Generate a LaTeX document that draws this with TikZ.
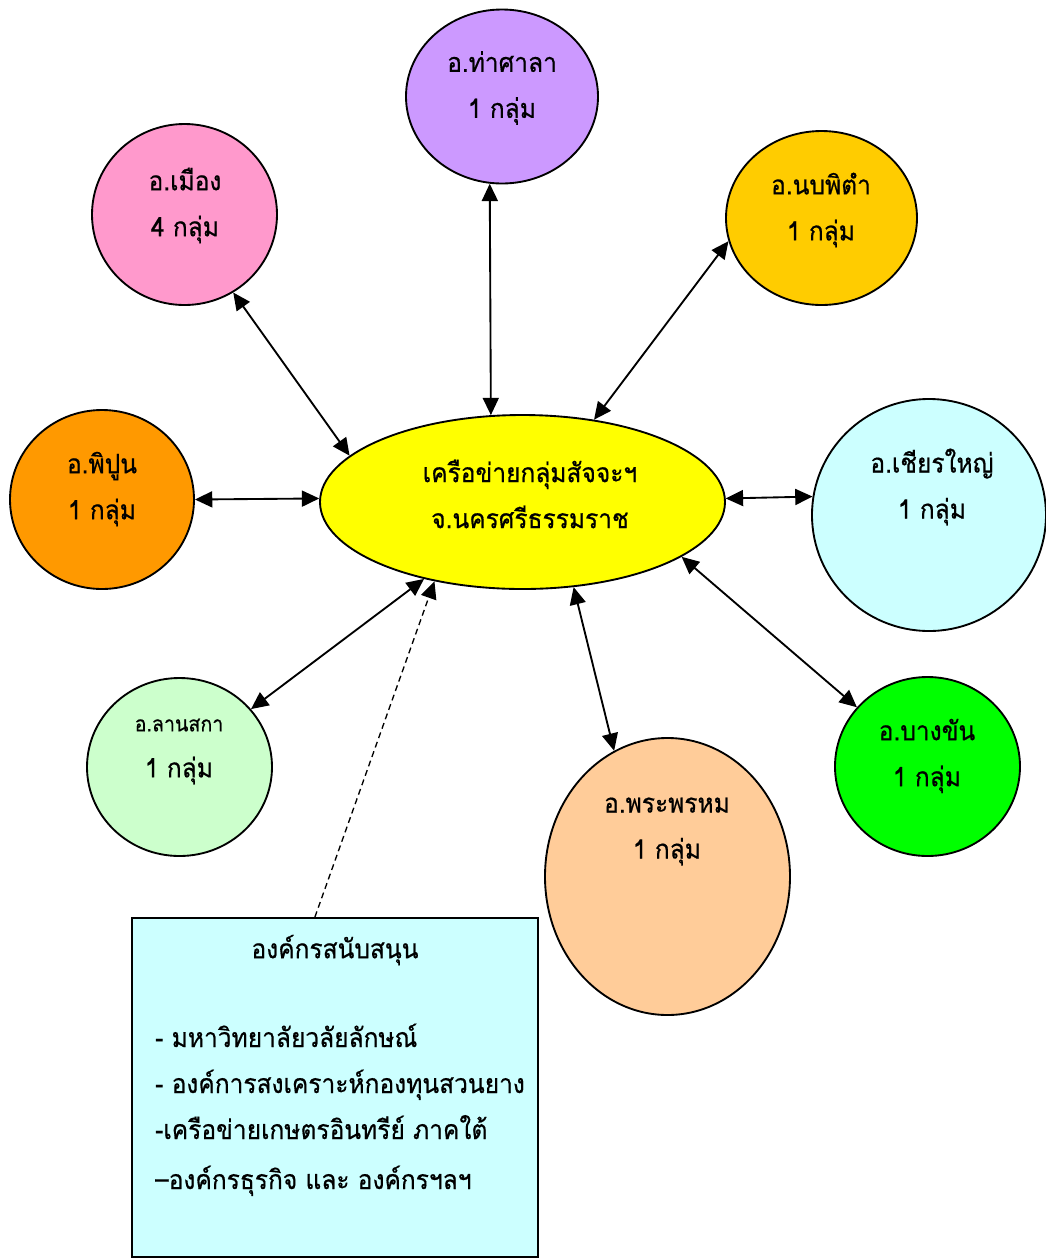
\documentclass[tikz,border=0pt]{standalone}
\usepackage{fontspec}
\newfontfamily\thaifont[Script=Thai,FakeStretch=0.92,FakeBold=0.6]{Loma}
\usetikzlibrary{shapes.geometric,arrows.meta,calc}
\definecolor{cTasala}{HTML}{CC99FF}
\definecolor{cMueang}{HTML}{FF99CC}
\definecolor{cNop}{HTML}{FFCC00}
\definecolor{cPipun}{HTML}{FF9900}
\definecolor{cCenter}{HTML}{FFFF00}
\definecolor{cChian}{HTML}{CCFFFF}
\definecolor{cLan}{HTML}{CCFFCC}
\definecolor{cBang}{HTML}{00FF00}
\definecolor{cPhrom}{HTML}{FFCC99}
\definecolor{cBox}{HTML}{CCFFFF}
\begin{document}
\begin{tikzpicture}[x=0.75pt,y=-0.75pt,
  bub/.style={ellipse,draw,line width=1.4pt,inner sep=0pt},
  lbl/.style={font=\thaifont\fontsize{20}{34.5}\selectfont,align=center,inner sep=0pt},
  itm/.style={font=\thaifont\fontsize{20}{23}\selectfont,anchor=base west,inner sep=0pt},
  tip/.tip={Triangle[length=13pt,width=12pt]},
  link/.style={line width=1.4pt,tip-tip},
  dlink/.style={line width=1pt,dash pattern=on 4.5pt off 3pt,-tip}]
\useasboundingbox (0,0) rectangle (1046,1258);
% bubbles
\node[bub,fill=cTasala,minimum width=144pt,minimum height=130.5pt] (tasala) at (502,96.5) {};
\node[bub,fill=cMueang,minimum width=138.75pt,minimum height=135.75pt] (mueang) at (184.5,214.5) {};
\node[bub,fill=cNop,minimum width=143.25pt,minimum height=130.5pt] (nop) at (821.5,218) {};
\node[bub,fill=cPipun,minimum width=138pt,minimum height=134.25pt] (pipun) at (102,499.5) {};
\node[bub,fill=cCenter,minimum width=303.75pt,minimum height=130.5pt] (center) at (522.5,502) {};
\node[bub,fill=cChian,minimum width=175.5pt,minimum height=174pt] (chian) at (929,515) {};
\node[bub,fill=cLan,minimum width=138.75pt,minimum height=133.5pt] (lan) at (179.5,767) {};
\node[bub,fill=cBang,minimum width=138.75pt,minimum height=134.25pt] (bang) at (927.5,766.5) {};
\node[bub,fill=cPhrom,minimum width=183.75pt,minimum height=207.75pt] (phrom) at (667.5,876.5) {};
\node[draw,fill=cBox,line width=1.4pt,minimum width=304.5pt,minimum height=254.25pt,inner sep=0pt] (box) at (335,1087.5) {};
% labels
\node[lbl] (tasalaT) at (502,88) {อ.ท่าศาลา\\1 กลุ่ม};
\node[lbl] (mueangT) at (185,205.5) {อ.เมือง\\4 กลุ่ม};
\node[lbl] (nopT) at (821,210) {อ.นบพิตำ\\1 กลุ่ม};
\node[lbl] (pipunT) at (102,489) {อ.พิปูน\\1 กลุ่ม};
\node[lbl] (centerT) at (530,494) {เครือข่ายกลุ่มสัจจะฯ\\จ.นครศรีธรรมราช};
\node[lbl] (chianT) at (932,487) {อ.เชียรใหญ่\\1 กลุ่ม};
\node[lbl] (lanT) at (179,751.5) {{\fontsize{16}{34.5}\selectfont อ.ลานสกา}\\1 กลุ่ม};
\node[lbl] (phromT) at (667,831.5) {อ.พระพรหม\\1 กลุ่ม};
\node[lbl] (bangT) at (927,756) {อ.บางขัน\\1 กลุ่ม};
\node[lbl] (boxT) at (335,950) {องค์กรสนับสนุน};
\node[itm] (i1) at (155,1047) {- มหาวิทยาลัยวลัยลักษณ์};
\node[itm] (i2) at (155,1093) {- องค์การสงเคราะห์กองทุนสวนยาง};
\node[itm] (i3) at (155,1139) {-เครือข่ายเกษตรอินทรีย์ ภาคใต้};
\node[itm] (i4) at (155,1189) {–องค์กรธุรกิจ และ องค์กรฯลฯ};
% connectors
\draw[link] (tasala.262) -- (center.110.5);
\draw[link] (mueang.302) -- (center.165);
\draw[link] (nop.194.7) -- (center.49.7);
\draw[link] (pipun.0) -- (center.179.2);
\draw[link] (chian.171.3) -- (center.1.4);
\draw[link] (lan.39.1) -- (center.218.7);
\draw[link] (phrom.113.8) -- (center.301.3);
\draw[link] (bang.140.9) -- (center.341.8);
\draw[dlink] ($(box.north west)!0.4507!(box.north east)$) -- (center.222.4);
\end{tikzpicture}
\end{document}
